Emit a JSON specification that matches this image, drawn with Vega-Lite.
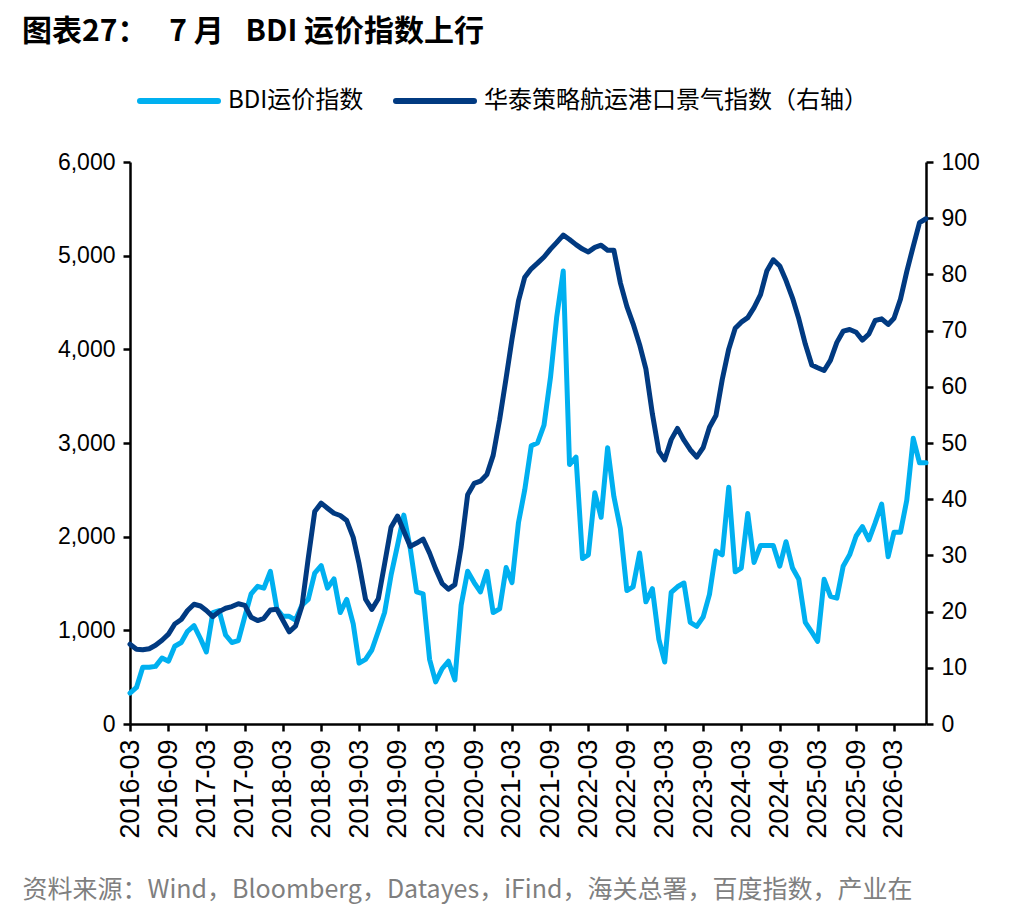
{
  "$schema": "https://vega.github.io/schema/vega-lite/v6.json",
  "width": 796,
  "height": 562,
  "autosize": {"type": "none"},
  "padding": {"left": 130, "top": 162, "right": 110, "bottom": 192},
  "background": "white",
  "title": {
    "text": "图表27：\u2002 7 月 \u2002BDI 运价指数上行",
    "anchor": "start",
    "frame": "group",
    "dx": -108,
    "offset": 12,
    "font": "Noto Sans CJK SC",
    "fontSize": 30,
    "fontWeight": "bold",
    "color": "#000000"
  },
  "datasets": {
    "bdi": [
      {"date": "2016-03", "value": 330}, {"date": "2016-04", "value": 390}, {"date": "2016-05", "value": 605},
      {"date": "2016-06", "value": 605}, {"date": "2016-07", "value": 615}, {"date": "2016-08", "value": 705},
      {"date": "2016-09", "value": 670}, {"date": "2016-10", "value": 830}, {"date": "2016-11", "value": 870},
      {"date": "2016-12", "value": 990}, {"date": "2017-01", "value": 1050}, {"date": "2017-02", "value": 910},
      {"date": "2017-03", "value": 770}, {"date": "2017-04", "value": 1190}, {"date": "2017-05", "value": 1210},
      {"date": "2017-06", "value": 950}, {"date": "2017-07", "value": 870}, {"date": "2017-08", "value": 890},
      {"date": "2017-09", "value": 1150}, {"date": "2017-10", "value": 1390}, {"date": "2017-11", "value": 1470},
      {"date": "2017-12", "value": 1450}, {"date": "2018-01", "value": 1630}, {"date": "2018-02", "value": 1230},
      {"date": "2018-03", "value": 1150}, {"date": "2018-04", "value": 1150}, {"date": "2018-05", "value": 1110},
      {"date": "2018-06", "value": 1270}, {"date": "2018-07", "value": 1330}, {"date": "2018-08", "value": 1610},
      {"date": "2018-09", "value": 1690}, {"date": "2018-10", "value": 1450}, {"date": "2018-11", "value": 1550},
      {"date": "2018-12", "value": 1190}, {"date": "2019-01", "value": 1330}, {"date": "2019-02", "value": 1070},
      {"date": "2019-03", "value": 650}, {"date": "2019-04", "value": 690}, {"date": "2019-05", "value": 790},
      {"date": "2019-06", "value": 990}, {"date": "2019-07", "value": 1190}, {"date": "2019-08", "value": 1590},
      {"date": "2019-09", "value": 1910}, {"date": "2019-10", "value": 2230}, {"date": "2019-11", "value": 1870},
      {"date": "2019-12", "value": 1410}, {"date": "2020-01", "value": 1390}, {"date": "2020-02", "value": 690},
      {"date": "2020-03", "value": 450}, {"date": "2020-04", "value": 590}, {"date": "2020-05", "value": 670},
      {"date": "2020-06", "value": 470}, {"date": "2020-07", "value": 1270}, {"date": "2020-08", "value": 1630},
      {"date": "2020-09", "value": 1510}, {"date": "2020-10", "value": 1410}, {"date": "2020-11", "value": 1630},
      {"date": "2020-12", "value": 1190}, {"date": "2021-01", "value": 1230}, {"date": "2021-02", "value": 1670},
      {"date": "2021-03", "value": 1510}, {"date": "2021-04", "value": 2150}, {"date": "2021-05", "value": 2500},
      {"date": "2021-06", "value": 2970}, {"date": "2021-07", "value": 3000}, {"date": "2021-08", "value": 3190},
      {"date": "2021-09", "value": 3700}, {"date": "2021-10", "value": 4350}, {"date": "2021-11", "value": 4836},
      {"date": "2021-12", "value": 2770}, {"date": "2022-01", "value": 2850}, {"date": "2022-02", "value": 1766},
      {"date": "2022-03", "value": 1806}, {"date": "2022-04", "value": 2468}, {"date": "2022-05", "value": 2207},
      {"date": "2022-06", "value": 2950}, {"date": "2022-07", "value": 2428}, {"date": "2022-08", "value": 2087},
      {"date": "2022-09", "value": 1425}, {"date": "2022-10", "value": 1465}, {"date": "2022-11", "value": 1826},
      {"date": "2022-12", "value": 1304}, {"date": "2023-01", "value": 1445}, {"date": "2023-02", "value": 903},
      {"date": "2023-03", "value": 662}, {"date": "2023-04", "value": 1405}, {"date": "2023-05", "value": 1465},
      {"date": "2023-06", "value": 1505}, {"date": "2023-07", "value": 1084}, {"date": "2023-08", "value": 1043},
      {"date": "2023-09", "value": 1144}, {"date": "2023-10", "value": 1384}, {"date": "2023-11", "value": 1846},
      {"date": "2023-12", "value": 1806}, {"date": "2024-01", "value": 2528}, {"date": "2024-02", "value": 1625},
      {"date": "2024-03", "value": 1665}, {"date": "2024-04", "value": 2247}, {"date": "2024-05", "value": 1725},
      {"date": "2024-06", "value": 1906}, {"date": "2024-07", "value": 1906}, {"date": "2024-08", "value": 1906},
      {"date": "2024-09", "value": 1685}, {"date": "2024-10", "value": 1946}, {"date": "2024-11", "value": 1665},
      {"date": "2024-12", "value": 1545}, {"date": "2025-01", "value": 1084}, {"date": "2025-02", "value": 980},
      {"date": "2025-03", "value": 883}, {"date": "2025-04", "value": 1545}, {"date": "2025-05", "value": 1364},
      {"date": "2025-06", "value": 1344}, {"date": "2025-07", "value": 1685}, {"date": "2025-08", "value": 1806},
      {"date": "2025-09", "value": 2007}, {"date": "2025-10", "value": 2107}, {"date": "2025-11", "value": 1966},
      {"date": "2025-12", "value": 2147}, {"date": "2026-01", "value": 2348}, {"date": "2026-02", "value": 1786},
      {"date": "2026-03", "value": 2047}, {"date": "2026-04", "value": 2047}, {"date": "2026-05", "value": 2388},
      {"date": "2026-06", "value": 3050}, {"date": "2026-07", "value": 2789}, {"date": "2026-08", "value": 2789}
    ],
    "index": [
      {"date": "2016-03", "value": 14.2}, {"date": "2016-04", "value": 13.3}, {"date": "2016-05", "value": 13.2},
      {"date": "2016-06", "value": 13.4}, {"date": "2016-07", "value": 14.0}, {"date": "2016-08", "value": 14.9},
      {"date": "2016-09", "value": 16.0}, {"date": "2016-10", "value": 17.8}, {"date": "2016-11", "value": 18.6},
      {"date": "2016-12", "value": 20.2}, {"date": "2017-01", "value": 21.3}, {"date": "2017-02", "value": 21.0},
      {"date": "2017-03", "value": 20.2}, {"date": "2017-04", "value": 19.1}, {"date": "2017-05", "value": 20.0},
      {"date": "2017-06", "value": 20.6}, {"date": "2017-07", "value": 20.9}, {"date": "2017-08", "value": 21.4},
      {"date": "2017-09", "value": 21.1}, {"date": "2017-10", "value": 19.0}, {"date": "2017-11", "value": 18.4},
      {"date": "2017-12", "value": 18.8}, {"date": "2018-01", "value": 20.3}, {"date": "2018-02", "value": 20.4},
      {"date": "2018-03", "value": 18.5}, {"date": "2018-04", "value": 16.4}, {"date": "2018-05", "value": 17.4},
      {"date": "2018-06", "value": 21.0}, {"date": "2018-07", "value": 29.5}, {"date": "2018-08", "value": 37.8},
      {"date": "2018-09", "value": 39.3}, {"date": "2018-10", "value": 38.4}, {"date": "2018-11", "value": 37.5},
      {"date": "2018-12", "value": 37.1}, {"date": "2019-01", "value": 36.2}, {"date": "2019-02", "value": 33.2},
      {"date": "2019-03", "value": 28.5}, {"date": "2019-04", "value": 22.2}, {"date": "2019-05", "value": 20.4},
      {"date": "2019-06", "value": 22.3}, {"date": "2019-07", "value": 28.5}, {"date": "2019-08", "value": 35.0},
      {"date": "2019-09", "value": 37.0}, {"date": "2019-10", "value": 34.3}, {"date": "2019-11", "value": 31.6},
      {"date": "2019-12", "value": 32.2}, {"date": "2020-01", "value": 32.9}, {"date": "2020-02", "value": 30.4},
      {"date": "2020-03", "value": 27.6}, {"date": "2020-04", "value": 25.0}, {"date": "2020-05", "value": 24.0},
      {"date": "2020-06", "value": 24.8}, {"date": "2020-07", "value": 31.5}, {"date": "2020-08", "value": 40.8},
      {"date": "2020-09", "value": 42.8}, {"date": "2020-10", "value": 43.2}, {"date": "2020-11", "value": 44.4},
      {"date": "2020-12", "value": 47.8}, {"date": "2021-01", "value": 54.2}, {"date": "2021-02", "value": 61.6},
      {"date": "2021-03", "value": 68.5}, {"date": "2021-04", "value": 75.3}, {"date": "2021-05", "value": 79.5},
      {"date": "2021-06", "value": 81.0}, {"date": "2021-07", "value": 82.0}, {"date": "2021-08", "value": 83.1},
      {"date": "2021-09", "value": 84.5}, {"date": "2021-10", "value": 85.7}, {"date": "2021-11", "value": 87.0},
      {"date": "2021-12", "value": 86.2}, {"date": "2022-01", "value": 85.3}, {"date": "2022-02", "value": 84.5},
      {"date": "2022-03", "value": 84.0}, {"date": "2022-04", "value": 84.8}, {"date": "2022-05", "value": 85.2},
      {"date": "2022-06", "value": 84.3}, {"date": "2022-07", "value": 84.3}, {"date": "2022-08", "value": 78.5},
      {"date": "2022-09", "value": 74.3}, {"date": "2022-10", "value": 71.2}, {"date": "2022-11", "value": 67.5},
      {"date": "2022-12", "value": 63.2}, {"date": "2023-01", "value": 55.2}, {"date": "2023-02", "value": 48.5},
      {"date": "2023-03", "value": 47.0}, {"date": "2023-04", "value": 50.6}, {"date": "2023-05", "value": 52.6},
      {"date": "2023-06", "value": 50.5}, {"date": "2023-07", "value": 48.8}, {"date": "2023-08", "value": 47.5},
      {"date": "2023-09", "value": 49.2}, {"date": "2023-10", "value": 52.8}, {"date": "2023-11", "value": 54.9},
      {"date": "2023-12", "value": 61.3}, {"date": "2024-01", "value": 66.7}, {"date": "2024-02", "value": 70.4},
      {"date": "2024-03", "value": 71.5}, {"date": "2024-04", "value": 72.3}, {"date": "2024-05", "value": 74.1},
      {"date": "2024-06", "value": 76.4}, {"date": "2024-07", "value": 80.6}, {"date": "2024-08", "value": 82.6},
      {"date": "2024-09", "value": 81.5}, {"date": "2024-10", "value": 78.9}, {"date": "2024-11", "value": 75.8},
      {"date": "2024-12", "value": 72.1}, {"date": "2025-01", "value": 67.6}, {"date": "2025-02", "value": 63.9},
      {"date": "2025-03", "value": 63.4}, {"date": "2025-04", "value": 62.9}, {"date": "2025-05", "value": 64.7},
      {"date": "2025-06", "value": 67.9}, {"date": "2025-07", "value": 69.9}, {"date": "2025-08", "value": 70.2},
      {"date": "2025-09", "value": 69.7}, {"date": "2025-10", "value": 68.3}, {"date": "2025-11", "value": 69.4},
      {"date": "2025-12", "value": 71.8}, {"date": "2026-01", "value": 72.1}, {"date": "2026-02", "value": 71.1},
      {"date": "2026-03", "value": 72.2}, {"date": "2026-04", "value": 75.6}, {"date": "2026-05", "value": 80.5},
      {"date": "2026-06", "value": 85.0}, {"date": "2026-07", "value": 89.2}, {"date": "2026-08", "value": 89.9}
    ]
  },
  "encoding": {
    "x": {
      "field": "date",
      "type": "temporal",
      "title": "资料来源：Wind，Bloomberg，Datayes，iFind，海关总署，百度指数，产业在",
      "scale": {
        "type": "utc",
        "domain": [
          {"year": 2016, "month": 3, "date": 1, "utc": true},
          {"year": 2026, "month": 8, "date": 1, "utc": true}
        ]
      },
      "axis": {
        "title": "资料来源：Wind，Bloomberg，Datayes，iFind，海关总署，百度指数，产业在",
        "titleX": -108,
        "titleY": 165,
        "titleAlign": "left",
        "titleAnchor": "start",
        "titleBaseline": "middle",
        "titleFont": "Noto Sans CJK SC",
        "titleFontSize": 25,
        "titleFontWeight": "normal",
        "titleColor": "#7F7F7F",
        "values": [
          {"year": 2016, "month": 3, "date": 1, "utc": true}, {"year": 2016, "month": 9, "date": 1, "utc": true},
          {"year": 2017, "month": 3, "date": 1, "utc": true}, {"year": 2017, "month": 9, "date": 1, "utc": true},
          {"year": 2018, "month": 3, "date": 1, "utc": true}, {"year": 2018, "month": 9, "date": 1, "utc": true},
          {"year": 2019, "month": 3, "date": 1, "utc": true}, {"year": 2019, "month": 9, "date": 1, "utc": true},
          {"year": 2020, "month": 3, "date": 1, "utc": true}, {"year": 2020, "month": 9, "date": 1, "utc": true},
          {"year": 2021, "month": 3, "date": 1, "utc": true}, {"year": 2021, "month": 9, "date": 1, "utc": true},
          {"year": 2022, "month": 3, "date": 1, "utc": true}, {"year": 2022, "month": 9, "date": 1, "utc": true},
          {"year": 2023, "month": 3, "date": 1, "utc": true}, {"year": 2023, "month": 9, "date": 1, "utc": true},
          {"year": 2024, "month": 3, "date": 1, "utc": true}, {"year": 2024, "month": 9, "date": 1, "utc": true},
          {"year": 2025, "month": 3, "date": 1, "utc": true}, {"year": 2025, "month": 9, "date": 1, "utc": true},
          {"year": 2026, "month": 3, "date": 1, "utc": true}
        ],
        "format": "%Y-%m",
        "formatType": "utc",
        "labelExpr": "utcFormat(datum.value, '%Y-%m')",
        "labelAngle": -90,
        "labelFont": "Liberation Sans",
        "labelFontSize": 27,
        "labelColor": "#000000",
        "labelPadding": 8,
        "labelOverlap": false,
        "labelFlush": false,
        "grid": false,
        "domainColor": "#000000",
        "domainWidth": 2.5,
        "tickColor": "#000000",
        "tickWidth": 2.5,
        "tickSize": 7
      }
    }
  },
  "layer": [
    {
      "data": {"name": "bdi"},
      "mark": {"type": "line", "strokeWidth": 5, "strokeJoin": "round", "strokeCap": "round"},
      "encoding": {
        "y": {
          "field": "value",
          "type": "quantitative",
          "scale": {"domain": [0, 6000], "nice": false},
          "axis": {
            "orient": "left",
            "title": null,
            "values": [0, 1000, 2000, 3000, 4000, 5000, 6000],
            "format": ",.0f",
            "grid": false,
            "labelFont": "Liberation Sans",
            "labelFontSize": 23,
            "labelColor": "#000000",
            "labelPadding": 8,
            "domainColor": "#000000",
            "domainWidth": 2.5,
            "tickColor": "#000000",
            "tickWidth": 2.5,
            "tickSize": 7
          }
        },
        "color": {
          "datum": "BDI运价指数",
          "type": "nominal",
          "scale": {
            "domain": ["BDI运价指数", "华泰策略航运港口景气指数（右轴）"],
            "range": ["#00B0F0", "#013A81"]
          },
          "legend": {
            "orient": "none",
            "legendX": 7,
            "legendY": -103,
            "direction": "horizontal",
            "columns": 2,
            "title": null,
            "padding": 0,
            "symbolType": "stroke",
            "symbolSize": 6084,
            "symbolStrokeWidth": 6,
            "labelFont": "Noto Sans CJK SC",
            "labelFontSize": 24,
            "labelColor": "#000000",
            "labelOffset": 7,
            "labelLimit": 700,
            "columnPadding": 20,
            "encode": {"symbols": {"update": {"strokeCap": {"value": "round"}}}}
          }
        }
      }
    },
    {
      "data": {"name": "index"},
      "mark": {"type": "line", "strokeWidth": 5, "strokeJoin": "round", "strokeCap": "round"},
      "encoding": {
        "y": {
          "field": "value",
          "type": "quantitative",
          "scale": {"domain": [0, 100], "nice": false},
          "axis": {
            "orient": "right",
            "title": null,
            "values": [0, 10, 20, 30, 40, 50, 60, 70, 80, 90, 100],
            "grid": false,
            "labelFont": "Liberation Sans",
            "labelFontSize": 23,
            "labelColor": "#000000",
            "labelPadding": 8,
            "domainColor": "#000000",
            "domainWidth": 2.5,
            "tickColor": "#000000",
            "tickWidth": 2.5,
            "tickSize": 7
          }
        },
        "color": {
          "datum": "华泰策略航运港口景气指数（右轴）",
          "type": "nominal"
        }
      }
    }
  ],
  "resolve": {"scale": {"y": "independent"}},
  "config": {
    "view": {"stroke": null},
    "font": "Liberation Sans"
  }
}
